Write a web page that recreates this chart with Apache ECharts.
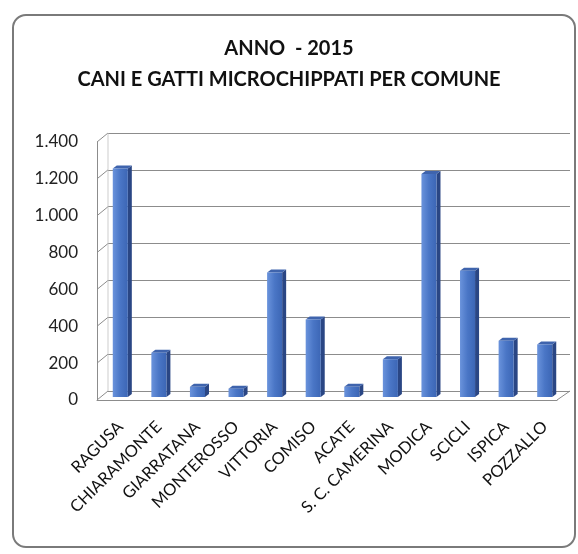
<!DOCTYPE html>
<html>
<head>
<meta charset="utf-8">
<script src="https://cdn.jsdelivr.net/npm/echarts@6/dist/echarts.min.js"></script>
<style>
  html, body { margin: 0; padding: 0; background: #ffffff; overflow: hidden; }
  #frame { position: absolute; left: 12px; top: 14px; width: 564px; height: 534px;
           border: 2px solid #7a7a7a; border-radius: 14px; box-sizing: border-box; }
  #chart { position: absolute; left: 0; top: 0; width: 578px; height: 554px; }
</style>
</head>
<body>
<div id="frame"></div>
<div id="chart"></div>
<script>
// ---- data ----
const titleLine1 = 'ANNO  - 2015';
const titleLine2 = 'CANI E GATTI MICROCHIPPATI PER COMUNE';
const comuni = ['RAGUSA', 'CHIARAMONTE', 'GIARRATANA', 'MONTEROSSO', 'VITTORIA', 'COMISO',
                'ACATE', 'S. C. CAMERINA', 'MODICA', 'SCICLI', 'ISPICA', 'POZZALLO'];
const microchippati = [1240, 240, 55, 45, 675, 420, 55, 205, 1210, 685, 305, 285];
const yTicks = [0, 200, 400, 600, 800, 1000, 1200, 1400];

// ---- style constants (3D look) ----
const FONT = 'Lato';
const DX = 11, DY = 9;          // back wall offset relative to front plane
const BAR_DX = 4, BAR_DY = 3;   // bar depth
const GRID_LINE = '#8c8c8c';

function fmt(v) { return String(v).replace(/\B(?=(\d{3})+(?!\d))/g, '.'); }

const chart = echarts.init(document.getElementById('chart'), null, { renderer: 'canvas' });

const option = {
  backgroundColor: 'transparent',
  animation: false,
  title: {
    text: titleLine1 + '\n' + titleLine2,
    left: 'center',
    top: 28,
    textStyle: { fontFamily: FONT, fontWeight: 'bold', fontSize: 20, color: '#111', lineHeight: 31 }
  },
  grid: [
    { left: 108, top: 133, width: 462, height: 258 },  // back wall
    { left: 97, top: 142, width: 460, height: 258 },   // front plane
    { left: 101, top: 139, width: 463, height: 258 }   // bar plane
  ],
  xAxis: [
    { gridIndex: 0, type: 'value', min: 0, max: 1, show: false },
    { gridIndex: 1, type: 'value', min: 0, max: 1,
      axisLine: { show: true, lineStyle: { color: GRID_LINE, width: 1 } },
      axisTick: { show: false }, axisLabel: { show: false }, splitLine: { show: false } },
    { gridIndex: 2, type: 'category', data: comuni,
      axisLine: { show: false }, axisTick: { show: false }, splitLine: { show: false },
      axisLabel: { interval: 0, rotate: 45, margin: 27, fontFamily: FONT, fontSize: 16.5, color: '#111' } }
  ],
  yAxis: [
    { gridIndex: 0, type: 'value', min: 0, max: 1400, interval: 200,
      axisLine: { show: false }, axisTick: { show: false }, axisLabel: { show: false },
      splitLine: { show: true, lineStyle: { color: GRID_LINE, width: 1.2 } } },
    { gridIndex: 1, type: 'value', min: 0, max: 1400, interval: 200,
      axisLine: { show: true, lineStyle: { color: GRID_LINE, width: 1 } },
      axisTick: { show: false }, splitLine: { show: false },
      axisLabel: { margin: 19, fontFamily: FONT, fontSize: 17, color: '#222', formatter: fmt } },
    { gridIndex: 2, type: 'value', min: 0, max: 1400, show: false }
  ],
  series: [
    { // left wall tick stubs + floor edges
      type: 'custom', xAxisIndex: 1, yAxisIndex: 1, silent: true,
      data: yTicks.map(v => [0, v]),
      renderItem: function (params, api) {
        const v = api.value(1);
        const p = api.coord([0, v]);
        const children = [{
          type: 'line',
          shape: { x1: p[0], y1: p[1], x2: p[0] + DX, y2: p[1] - DY },
          style: { stroke: GRID_LINE, lineWidth: 1 }
        }];
        if (v === 0) {
          const q = api.coord([1, 0]);
          children.push({
            type: 'line',
            shape: { x1: q[0], y1: q[1], x2: q[0] + DX + 2, y2: q[1] - DY },
            style: { stroke: GRID_LINE, lineWidth: 1 }
          });
        }
        if (v === 1400) {
          const q = api.coord([0, 1400]);
          children.push({
            type: 'line',
            shape: { x1: q[0] + DX, y1: q[1] - DY, x2: q[0] + DX, y2: api.coord([0, 0])[1] - DY },
            style: { stroke: '#c0c0c0', lineWidth: 0.8 }
          });
        }
        return { type: 'group', children: children };
      }
    },
    { // 3D bars
      type: 'custom', xAxisIndex: 2, yAxisIndex: 2,
      data: microchippati.map((v, i) => [i, v]),
      renderItem: function (params, api) {
        const i = api.value(0), v = api.value(1);
        const top = api.coord([i, v]);
        const base = api.coord([i, 0]);
        const band = api.size([1, 0])[0];
        const w = band * 0.39;
        const l = top[0] - w / 2, r = top[0] + w / 2, t = top[1], b = base[1];
        return {
          type: 'group',
          children: [
            { type: 'polygon',
              shape: { points: [[r, t], [r + BAR_DX, t - BAR_DY], [r + BAR_DX, b - BAR_DY], [r, b]] },
              style: { fill: '#2a4684' } },
            { type: 'polygon',
              shape: { points: [[l, t], [l + BAR_DX, t - BAR_DY], [r + BAR_DX, t - BAR_DY], [r, t]] },
              style: { fill: '#3f64ad' } },
            { type: 'rect',
              shape: { x: l, y: t, width: w, height: b - t },
              style: { fill: new echarts.graphic.LinearGradient(0, 0, 1, 0, [
                { offset: 0, color: '#6a93dc' }, { offset: 0.5, color: '#4a76c6' }, { offset: 1, color: '#3c66b5' }
              ]) } }
          ]
        };
      }
    }
  ]
};
chart.setOption(option);
</script>
</body>
</html>
